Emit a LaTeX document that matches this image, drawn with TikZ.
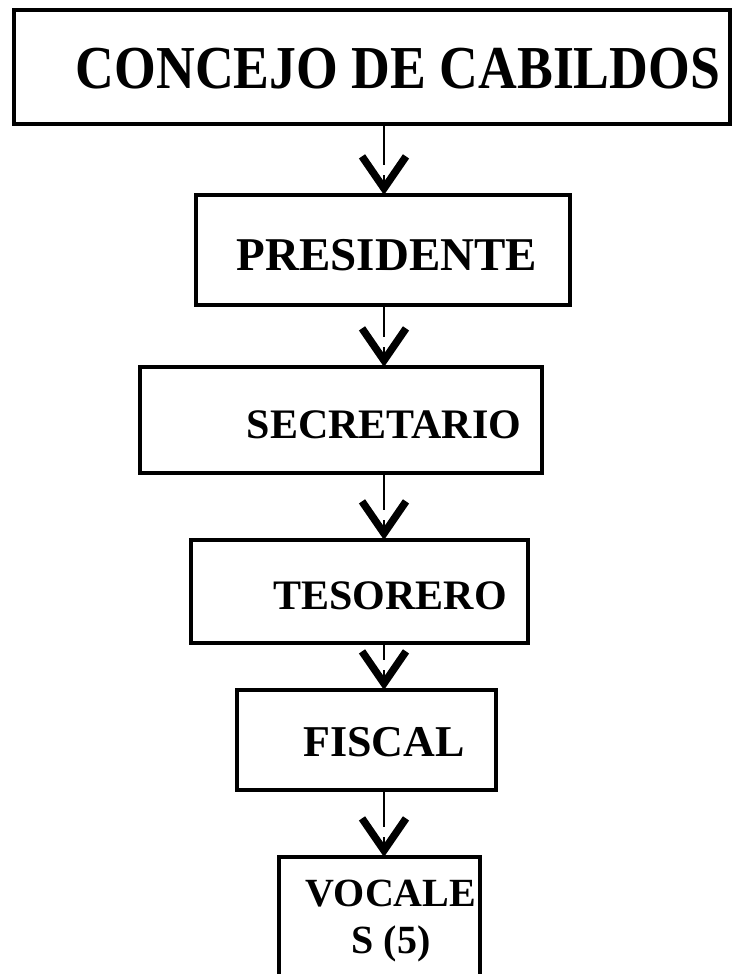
\documentclass[tikz,border=0pt]{standalone}
\usepackage{fontspec}
\setmainfont{Liberation Serif}
\usetikzlibrary{arrows.meta,calc}
\begin{document}
\begin{tikzpicture}[x=1pt,y=-1pt,
  box/.style={draw, line width=4.8pt, rectangle, inner sep=0pt, outer sep=0pt},
  lbl/.style={inner sep=0pt, font=\bfseries},
  shaft/.style={line width=1.5pt},
  head/.style={line width=1.5pt, -{Straight Barb[sharp,length=32pt,width=44pt,line width=7.5pt]}}]
\useasboundingbox (0,0) rectangle (735,974);
\fill[white] (0,0) rectangle (735,974);
% boxes
\node[box, minimum width=716pt, minimum height=114pt] (top) at (372,67) {};
\node[box, minimum width=374pt, minimum height=110pt] (pres) at (383,250) {};
\node[box, minimum width=402pt, minimum height=106pt] (sec) at (341,420) {};
\node[box, minimum width=337pt, minimum height=103pt] (tes) at (359.5,591.5) {};
\node[box, minimum width=259pt, minimum height=100pt] (fis) at (366.5,740) {};
\node[box, minimum width=201pt, minimum height=150pt, anchor=north] (voc) at (379.5,857) {};
% labels
\node[lbl, font=\bfseries\fontsize{61}{61}\selectfont] (ttop) at (398,69) {\scalebox{0.88}[1]{CONCEJO DE CABILDOS}};
\node[lbl, font=\bfseries\fontsize{47}{47}\selectfont] (tpres) at (387,255) {PRESIDENTE};
\node[lbl, font=\bfseries\fontsize{42}{42}\selectfont] (tsec) at (384,425) {SECRETARIO};
\node[lbl, font=\bfseries\fontsize{42}{42}\selectfont] (ttes) at (390,596) {TESORERO};
\node[lbl, font=\bfseries\fontsize{44}{44}\selectfont] (tfis) at (384,742) {FISCAL};
\node[lbl, font=\bfseries\fontsize{40}{47}\selectfont, align=center, anchor=north] (tvoc) at (391,880) {VOCALE\\S (5)};
% connectors
\coordinate (ax) at (384,0);
\foreach \a/\b in {top/pres, pres/sec, sec/tes, tes/fis, fis/voc} {
  \draw[shaft] (\a.south -| ax) -- ($(ax |- \b.north)+(0,-30)$);
  \draw[head] ($(ax |- \b.north)+(0,-20)$) -- (ax |- \b.north);
}
\end{tikzpicture}
\end{document}
